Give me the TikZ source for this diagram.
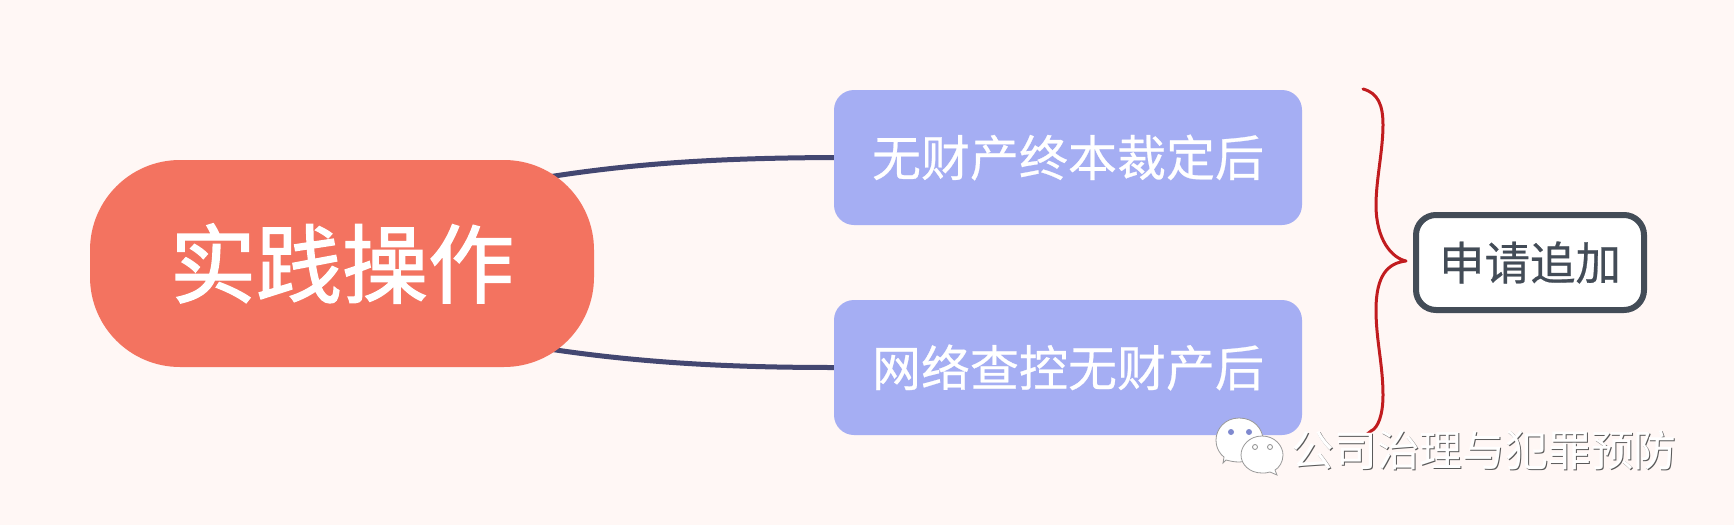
\documentclass[tikz,border=0pt]{standalone}
\usepackage{fontspec}
\setmainfont{Noto Sans CJK SC}
\newfontfamily\heavycjk[FakeBold=1.6]{Noto Sans CJK SC}
\newfontfamily\semicjk[FakeBold=0.5]{Noto Sans CJK SC}
\usetikzlibrary{calc}
\definecolor{paper}{HTML}{FFF7F5}
\definecolor{rootfill}{HTML}{F37360}
\definecolor{branchfill}{HTML}{A5AEF3}
\definecolor{linkcolor}{HTML}{434771}
\definecolor{notecolor}{HTML}{434C57}
\definecolor{bracecolor}{HTML}{C11C1F}
\definecolor{eyecolor}{HTML}{7F89CF}
\pgfdeclarelayer{paperlayer}
\pgfdeclarelayer{links}
\pgfsetlayers{paperlayer,links,main}
\newcommand{\pxfont}[1]{\fontsize{#1}{#1}\selectfont}
\tikzset{
  x=1pt,y=-1pt,
  rootnode/.style={fill=rootfill,text=white,rounded corners=90pt,minimum width=504pt,minimum height=207pt,inner sep=0pt,font=\heavycjk\pxfont{86}},
  branchnode/.style={fill=branchfill,text=white,rounded corners=20pt,minimum width=468pt,minimum height=135pt,inner sep=0pt,font=\semicjk\pxfont{49}},
  notenode/.style={fill=white,draw=notecolor,line width=6pt,text=notecolor,rounded corners=20pt,minimum width=228pt,minimum height=95pt,inner sep=0pt,font=\semicjk\pxfont{45.5}},
  link/.style={draw=linkcolor,line width=5pt},
  bracket/.style={draw=bracecolor,line width=3pt,line cap=round,line join=round},
  stamptext/.style={inner sep=0pt,font=\pxfont{42.8}},
  bubble/.style={fill=white,draw=black!40,line width=0.8pt},
}
\begin{document}
\begin{tikzpicture}
\useasboundingbox (0,0) rectangle (1734,525);
\begin{pgfonlayer}{paperlayer}
\fill[paper] (0,0) rectangle (1734,525);
\end{pgfonlayer}

% topic and its two branches
\node[rootnode] (root) at (342,263.5) {\raisebox{-2pt}{实践操作}};
\node[branchnode] (upper) at (1068,157.5) {无财产终本裁定后};
\node[branchnode] (lower) at (1068,367.5) {网络查控无财产后};
\node[notenode] (note) at (1530,262.5) {申请追加};

% links start behind the topic shape
\coordinate (rootup) at (530,180);
\coordinate (rootdown) at (530,346);
\begin{pgfonlayer}{links}
\draw[link] (rootup) .. controls (640,161) and (740,158) .. (upper.west);
\draw[link] (rootdown) .. controls (640,364) and (740,367.5) .. (lower.west);
\end{pgfonlayer}

% hand-drawn brace pointing at the note
\coordinate (bracetop) at (1363,89);
\coordinate (bracetip) at (1406,261);
\coordinate (braceend) at (1366,435);
\draw[bracket] (bracetop)
  .. controls (1378,93) and (1383,105) .. (1383,125)
  .. controls (1383,150) and (1376,180) .. (1376,205)
  .. controls (1376,240) and (1392,258) .. (bracetip)
  .. controls (1388,263) and (1376,275) .. (1376,310)
  .. controls (1376,340) and (1383,365) .. (1383,395)
  .. controls (1383,415) and (1378,428) .. (1371,431)
  -- (braceend);

% chat-bubble mark
\path[bubble] (1239,418) .. controls (1254,418) and (1263,429) .. (1263,440)
  .. controls (1263,452) and (1254,462) .. (1239,462)
  .. controls (1234,462) and (1230,461) .. (1226,460)
  -- (1223,463) -- (1224,457)
  .. controls (1221,455) and (1216,449) .. (1216,440)
  .. controls (1216,429) and (1225,418) .. (1239,418) -- cycle;
\fill[eyecolor] (1231,432) circle (3);
\fill[eyecolor] (1249,432) circle (3);
\path[bubble] (1262,436) .. controls (1275,436) and (1283,446) .. (1283,455)
  .. controls (1283,462) and (1279,468) .. (1275,470)
  -- (1277,475) -- (1270,472)
  .. controls (1267,473) and (1265,473) .. (1262,473)
  .. controls (1249,473) and (1241,464) .. (1241,455)
  .. controls (1241,446) and (1249,436) .. (1262,436) -- cycle;
\draw[black!45,line width=0.8pt,fill=white] (1255,447) circle (2.5);
\draw[black!45,line width=0.8pt,fill=white] (1270,447) circle (2.5);

% account name with its drop shadow
\node[stamptext,text=black!65] (stampshadow) at (1485,451) {公司治理与犯罪预防};
\node[stamptext,text=white] (stamp) at (1484,450) {公司治理与犯罪预防};
\end{tikzpicture}
\end{document}
